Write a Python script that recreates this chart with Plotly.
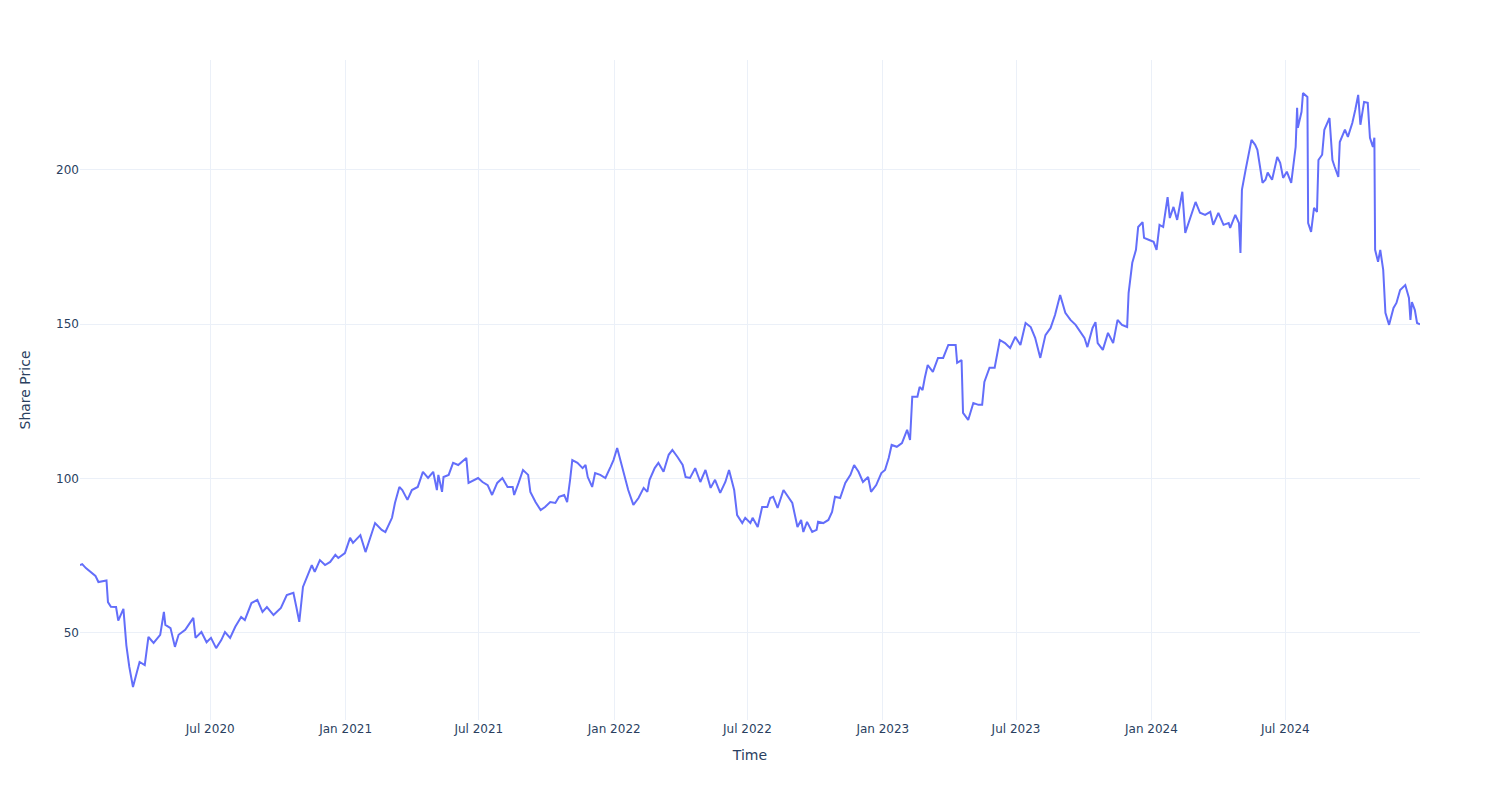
import plotly.graph_objects as go

dates = [
    "2020-01-06","2020-01-09","2020-01-14","2020-01-21","2020-01-27","2020-01-31","2020-02-05","2020-02-11",
    "2020-02-13","2020-02-17","2020-02-24","2020-02-27","2020-03-05","2020-03-09","2020-03-13","2020-03-18",
    "2020-03-23","2020-03-27","2020-04-03","2020-04-08","2020-04-15","2020-04-24","2020-04-29","2020-05-01",
    "2020-05-08","2020-05-14","2020-05-19","2020-05-28","2020-06-08","2020-06-11","2020-06-19","2020-06-26",
    "2020-07-02","2020-07-09","2020-07-16","2020-07-21","2020-07-28","2020-08-04","2020-08-12","2020-08-17",
    "2020-08-26","2020-09-03","2020-09-10","2020-09-16","2020-09-25","2020-10-05","2020-10-13","2020-10-22",
    "2020-10-26","2020-10-30","2020-11-04","2020-11-11","2020-11-16","2020-11-20","2020-11-27","2020-12-04",
    "2020-12-11","2020-12-18","2020-12-22","2020-12-31",
    "2021-01-07","2021-01-11","2021-01-21","2021-01-28","2021-02-04","2021-02-10","2021-02-19","2021-02-24",
    "2021-03-05","2021-03-09","2021-03-15","2021-03-19","2021-03-26","2021-04-01","2021-04-09","2021-04-16",
    "2021-04-23","2021-04-30","2021-05-05","2021-05-07","2021-05-12","2021-05-14","2021-05-21","2021-05-27",
    "2021-06-03","2021-06-14","2021-06-17","2021-06-25","2021-06-30","2021-07-06","2021-07-13","2021-07-19",
    "2021-07-26","2021-08-02","2021-08-09","2021-08-16","2021-08-18","2021-08-24","2021-08-30","2021-09-06",
    "2021-09-09","2021-09-16","2021-09-23","2021-09-29","2021-10-06","2021-10-13","2021-10-18","2021-10-25",
    "2021-10-29","2021-11-02","2021-11-05","2021-11-12","2021-11-19","2021-11-23","2021-11-26","2021-12-02",
    "2021-12-06","2021-12-13","2021-12-20","2021-12-27","2021-12-31",
    "2022-01-05","2022-01-10","2022-01-14","2022-01-20","2022-01-27","2022-02-03","2022-02-10","2022-02-15",
    "2022-02-18","2022-02-25","2022-03-02","2022-03-09","2022-03-16","2022-03-21","2022-03-28","2022-04-04",
    "2022-04-08","2022-04-14","2022-04-21","2022-04-28","2022-05-05","2022-05-12","2022-05-18","2022-05-25",
    "2022-06-01","2022-06-06","2022-06-13","2022-06-17","2022-06-24","2022-06-28","2022-07-05","2022-07-08",
    "2022-07-15","2022-07-21","2022-07-28","2022-08-01","2022-08-05","2022-08-11","2022-08-19","2022-08-26",
    "2022-08-31","2022-09-07","2022-09-12","2022-09-15","2022-09-20","2022-09-27","2022-10-03","2022-10-05",
    "2022-10-12","2022-10-19","2022-10-24","2022-10-28","2022-11-04","2022-11-11","2022-11-18","2022-11-23",
    "2022-11-29","2022-12-05","2022-12-12","2022-12-16","2022-12-23","2022-12-30",
    "2023-01-04","2023-01-09","2023-01-13","2023-01-20","2023-01-27","2023-02-03","2023-02-07","2023-02-10",
    "2023-02-17","2023-02-20","2023-02-24","2023-02-27","2023-03-03","2023-03-10","2023-03-17","2023-03-24",
    "2023-03-31","2023-04-10","2023-04-12","2023-04-18","2023-04-20","2023-04-27","2023-05-04","2023-05-11",
    "2023-05-16","2023-05-19","2023-05-26","2023-06-02","2023-06-09","2023-06-16","2023-06-23","2023-06-30",
    "2023-07-07","2023-07-14","2023-07-21","2023-07-27","2023-08-03","2023-08-10","2023-08-17","2023-08-23",
    "2023-08-30","2023-09-06","2023-09-13","2023-09-20","2023-09-27","2023-10-02","2023-10-06","2023-10-13",
    "2023-10-17","2023-10-20","2023-10-27","2023-11-03","2023-11-10","2023-11-16","2023-11-22","2023-11-29",
    "2023-12-01","2023-12-06","2023-12-11","2023-12-14","2023-12-20","2023-12-22","2023-12-29",
    "2024-01-04","2024-01-08","2024-01-12","2024-01-17","2024-01-23","2024-01-26","2024-01-31","2024-02-05",
    "2024-02-12","2024-02-16","2024-02-23","2024-03-01","2024-03-07","2024-03-14","2024-03-21","2024-03-25",
    "2024-04-01","2024-04-08","2024-04-15","2024-04-17","2024-04-24","2024-04-29","2024-05-01","2024-05-03",
    "2024-05-08","2024-05-13","2024-05-16","2024-05-21","2024-05-24","2024-05-31","2024-06-04","2024-06-07",
    "2024-06-13","2024-06-20","2024-06-24","2024-06-28","2024-07-03","2024-07-09","2024-07-15","2024-07-17",
    "2024-07-18","2024-07-23","2024-07-25","2024-07-31","2024-08-01","2024-08-05","2024-08-09","2024-08-13",
    "2024-08-15","2024-08-20","2024-08-23","2024-08-30","2024-09-03","2024-09-06","2024-09-11","2024-09-13",
    "2024-09-20","2024-09-24","2024-09-30","2024-10-04","2024-10-08","2024-10-11","2024-10-16","2024-10-21",
    "2024-10-24","2024-10-28","2024-10-30","2024-10-31","2024-11-04","2024-11-07","2024-11-11","2024-11-14",
    "2024-11-19","2024-11-25","2024-11-29","2024-12-04","2024-12-11","2024-12-16","2024-12-18","2024-12-20",
    "2024-12-24","2024-12-27","2024-12-31",
]

prices = [
    72.0, 72.3, 71.0, 69.8, 68.5, 66.5, 66.8, 67.0,
    60.0, 58.5, 58.4, 54.0, 57.8, 46.0, 39.0, 32.5,
    37.0, 40.6, 39.6, 48.7, 46.8, 49.4, 56.8, 52.6,
    51.6, 45.5, 49.4, 51.0, 54.9, 48.4, 50.3, 47.0,
    48.4, 45.1, 47.7, 50.3, 48.4, 52.0, 55.2, 54.2,
    59.7, 60.7, 56.8, 58.4, 55.8, 58.1, 62.3, 63.0,
    58.4, 53.6, 64.9, 69.4, 72.0, 69.8, 73.6, 72.0,
    73.0, 75.3, 74.3, 75.9,
    80.8, 79.2, 81.7, 76.2, 81.7, 85.6, 83.4, 82.7,
    87.3, 92.1, 97.3, 96.3, 93.1, 96.3, 97.3, 102.2,
    100.2, 102.2, 96.3, 101.2, 95.7, 100.5, 101.2, 105.1,
    104.4, 106.7, 98.6, 99.6, 100.2, 98.9, 97.9, 94.7,
    98.6, 100.2, 97.3, 97.3, 94.7, 98.6, 102.8, 101.2,
    95.7, 92.4, 89.8, 90.8, 92.4, 92.1, 94.1, 94.7,
    92.4, 99.6, 106.0, 105.1, 103.4, 104.4, 100.5, 97.3,
    101.8, 101.2, 100.2, 103.8, 106.0,
    109.9, 105.1, 101.2, 96.3, 91.5, 93.7, 97.0, 95.7,
    99.6, 103.4, 105.1, 102.2, 107.7, 109.3, 107.0, 104.4,
    100.5, 100.2, 103.4, 98.9, 102.8, 97.0, 99.6, 95.4,
    98.9, 102.8, 96.3, 88.2, 85.6, 87.3, 85.6, 87.3,
    84.3, 90.8, 90.8, 93.7, 94.1, 90.5, 96.3, 93.7,
    92.1, 84.3, 86.6, 82.7, 86.0, 82.7, 83.4, 86.0,
    85.6, 86.6, 89.2, 94.1, 93.7, 98.6, 101.2, 104.4,
    102.2, 98.9, 100.5, 95.7, 97.9, 101.8,
    102.8, 106.7, 110.9, 110.3, 111.5, 115.8, 112.5, 126.5,
    126.5, 129.7, 128.7, 132.6, 136.8, 134.6, 139.1, 139.1,
    143.3, 143.3, 137.5, 138.4, 121.3, 119.0, 124.5, 123.9,
    123.9, 131.3, 135.9, 135.9, 144.9, 143.9, 142.3, 145.9,
    143.3, 150.4, 149.1, 145.6, 139.1, 146.5, 148.8, 153.0,
    159.5, 153.7, 151.4, 149.8, 147.5, 145.6, 142.6, 148.8,
    150.7, 143.9, 141.7, 147.2, 143.9, 151.4, 149.8, 149.1,
    160.1, 169.9, 174.1, 181.5, 183.1, 178.0, 177.3,
    176.7, 174.1, 182.2, 181.5, 191.2, 184.4, 188.0, 183.8,
    192.9, 179.6, 184.4, 189.6, 186.1, 185.4, 186.4, 182.2,
    186.1, 182.2, 182.8, 181.2, 185.4, 182.8, 173.1, 193.5,
    200.0, 205.8, 209.7, 208.1, 206.5, 195.8, 196.8, 199.1,
    196.8, 204.2, 202.3, 197.4, 199.4, 195.8, 207.4, 220.1,
    213.6, 218.8, 224.9, 223.6, 182.8, 179.9, 187.7, 186.4,
    203.2, 204.9, 213.0, 216.8, 203.2, 201.0, 197.7, 209.0,
    213.0, 210.7, 215.2, 219.4, 224.3, 214.6, 222.0, 221.7,
    210.4, 207.4, 210.4, 174.1, 170.2, 174.1, 167.6, 153.7,
    149.8, 155.3, 156.9, 161.1, 162.7, 158.5, 151.4, 157.2,
    154.6, 150.4, 150.0,
]

fig = go.Figure()
fig.add_trace(go.Scatter(x=dates, y=prices, mode="lines",
                         line=dict(color="#636efa", width=2), name="Share Price"))

fig.update_layout(
    template="plotly_white",
    width=1500, height=800,
    margin=dict(l=80, r=80, t=60, b=80),
    font=dict(family="DejaVu Sans", size=12, color="#2a3f5f"),
    showlegend=False,
    xaxis=dict(title=dict(text="Time"), tickformat="%b %Y", dtick="M6",
               tick0="2020-07-01"),
    yaxis=dict(title=dict(text="Share Price", standoff=22)),
)

fig.write_html("out.html")
